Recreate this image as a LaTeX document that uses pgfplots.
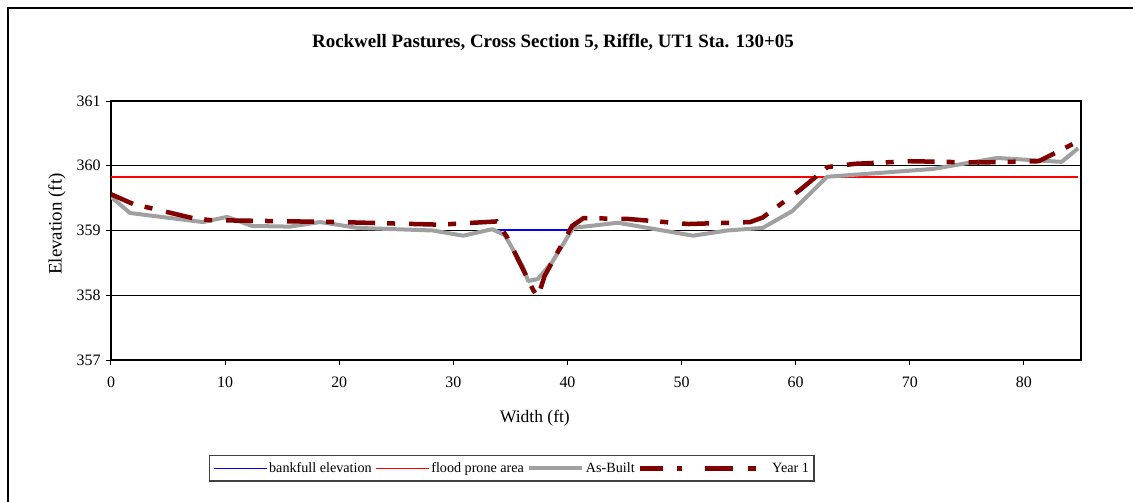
\documentclass[border=0pt]{standalone}
\usepackage{fontspec}
\setmainfont{Liberation Serif}
\usepackage{pgfplots}
\pgfplotsset{compat=1.18}
\definecolor{yearred}{HTML}{800000}
\definecolor{asgray}{HTML}{A0A0A0}
\pgfplotsset{
  shortleg/.style={legend image code/.code={\draw[##1] (0bp,0bp) -- (53bp,0bp);}},
  yearleg/.style={legend image code/.code={\draw[##1, dash pattern=on 23bp off 14bp on 5bp off 23bp on 28bp off 15bp on 8bp off 30bp, dash phase=0bp] (0bp,0bp) -- (128bp,0bp);}},
}
\begin{document}
\begin{tikzpicture}
\begin{axis}[
  at={(0bp,0bp)}, anchor=south west,
  scale only axis, width=970bp, height=259bp,
  xmin=0, xmax=85, ymin=357, ymax=361,
  xtick={0,10,...,80}, ytick={357,358,359,360,361},
  /pgf/number format/assume math mode=true,
  tick label style={font=\fontsize{16}{18}\selectfont, black},
  xticklabel style={yshift=-8bp},
  yticklabel style={xshift=-2bp},
  ymajorgrids, grid style={black, line width=0.8bp},
  axis line style={black, line width=1.6bp},
  tick align=outside, tick pos=left, major tick length=5bp,
  tick style={black, line width=1bp},
  xlabel={Width (ft)}, ylabel={Elevation (ft)},
  xlabel style={font=\fontsize{17.6}{20}\selectfont, at={(axis description cs:0.437,-0.224)}, anchor=center},
  ylabel style={font=\fontsize{19}{22}\selectfont, at={(axis description cs:-0.0557,0.525)}, anchor=center},
  legend columns=4,
  legend style={at={(axis description cs:0.101,-0.3668)}, anchor=north west,
    draw=black!75, line width=1.2bp, fill=white,
    inner xsep=3.5bp, inner ysep=5.5bp,
    font=\fontsize{14.2}{16}\selectfont,
    nodes={inner sep=1.5bp},
    /tikz/every even column/.append style={column sep=2bp}},
  shortleg,
]
\addplot[blue, line width=1.6bp] coordinates {(33.8,359.01) (40.3,359.01)};
\addlegendentry{bankfull elevation}
\addplot[red, line width=1.6bp] coordinates {(0,359.83) (84.75,359.83)};
\addlegendentry{flood prone area}
\addplot[asgray, line width=4bp, line join=round] coordinates {
(0,359.52) (1.67,359.27) (8.06,359.13) (10.17,359.21) (12.36,359.07) (15.69,359.06)
(18.32,359.13) (21.65,359.04) (28.2,359.0) (30.85,358.92) (33.4,359.02) (34.5,358.93)
(36.1,358.44) (36.55,358.22) (37.4,358.25) (38.65,358.51) (40.5,359.04) (44.4,359.12)
(51.0,358.92) (54.0,359.0) (57.1,359.04) (59.7,359.3) (62.75,359.83) (72.0,359.95)
(77.65,360.12) (83.3,360.06) (84.75,360.27)};
\addlegendentry{As-Built}
\addplot[yearred, line width=4.5bp, dash pattern=on 27bp off 12bp on 8bp off 14bp, dash phase=3bp, yearleg] coordinates {
(0,359.56) (1.93,359.41) (7.19,359.19) (8.68,359.16) (20,359.13) (28.8,359.09) (33.8,359.14)
(34.7,358.9) (37.0,358.08) (37.4,357.97) (38.0,358.3) (40.4,359.07) (41.4,359.19)
(45.2,359.18) (50.6,359.1) (56.0,359.13) (57.1,359.2) (60.4,359.63) (62.8,359.98)
(65.2,360.03) (70,360.07) (76,360.05) (81.3,360.07) (85,360.40)};
\addlegendentry{Year 1\hspace{16bp}}
\end{axis}
\node[font=\fontsize{19}{22}\selectfont\bfseries, anchor=base] at (442bp,312bp) {Rockwell Pastures, Cross Section 5, Riffle, UT1 Sta. 130+05};
\draw[black, line width=2.3bp] (-103bp,-142bp) -- (-103bp,352bp) -- (1022bp,352bp);
\pgfresetboundingbox
\path[use as bounding box] (-111bp,-142bp) rectangle (1022bp,360bp);
\end{tikzpicture}
\end{document}
